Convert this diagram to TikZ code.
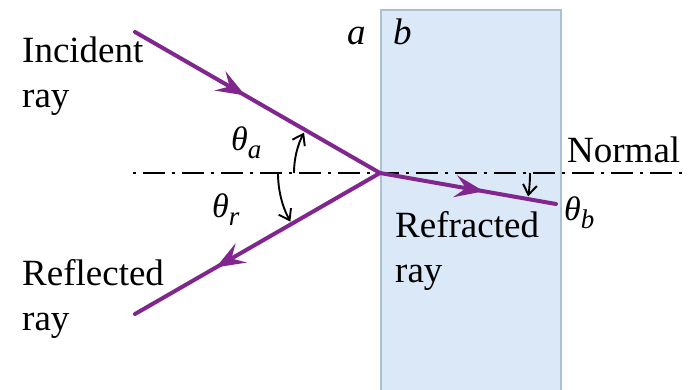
\documentclass[tikz,border=0pt]{standalone}
\usepackage{fontspec}
\setmainfont{Liberation Serif}
\usetikzlibrary{arrows.meta,decorations.markings}
\definecolor{raypurple}{RGB}{128,38,142}
\definecolor{slabfill}{RGB}{219,232,247}
\definecolor{slabedge}{RGB}{172,192,212}
\newcommand\thlab[1]{{\fontsize{34}{38}\selectfont\itshape θ}\raisebox{-8pt}{\fontsize{27}{30}\selectfont\itshape #1}}
\begin{document}
\begin{tikzpicture}[x=1pt,y=1pt,
  lbl/.style={inner sep=0pt, anchor=base west, align=left, font=\fontsize{37}{45}\selectfont},
  ray/.style={draw=raypurple, line width=4pt, line cap=round, line join=round},
  angarc/.style={line width=1.9pt, -{Straight Barb[length=10pt,width=14pt,line width=1.9pt]}},
  normalline/.style={line width=2pt, dash pattern=on 3pt off 7pt on 22pt off 7pt},
  mk/.style={postaction={decorate, decoration={markings, mark=at position #1 with {\arrow[raypurple]{Stealth[length=29pt,width=22pt,inset=11pt]}}}}}
]
\useasboundingbox (0,0) rectangle (688,389);
% slab
\filldraw[fill=slabfill, draw=slabedge, line width=1.5pt] (381,379) rectangle (561,-5);
% points
\coordinate (O) at (380,216);
\coordinate (A) at (135,357);
\coordinate (R) at (135,75);
\coordinate (B) at (556,185);
\coordinate (nstart) at (133,216);
\coordinate (nend) at (690,216);
% normal
\draw[normalline] (nstart) -- (nend);
% rays
\draw[ray, mk=0.45] (A) -- (O);
\draw[ray, mk=0.67] (O) -- (R);
\draw[ray, mk=0.59] (O) -- (B);
% angle arcs
\draw[angarc] ([shift={(180:86pt)}]O) arc[start angle=180, end angle=152, radius=86pt];
\draw[angarc] ([shift={(180:102pt)}]O) arc[start angle=180, end angle=208.5, radius=102pt];
\draw[angarc] ([shift={(0:150pt)}]O) arc[start angle=0, end angle=-9, radius=150pt];
% labels (anchor = baseline of last line)
\node[lbl] (inc) at (22,281) {Incident\\ray};
\node[lbl] (refl) at (22,59) {Reflected\\ray};
\node[lbl] (refr) at (395,107) {Refracted\\ray};
\node[lbl] (norm) at (567,226) {Normal};
\node[lbl] (la) at (347,344) {\itshape a};
\node[lbl] (lb) at (393,344) {\itshape b};
\node[lbl] (tha) at (231,239) {\thlab{a}};
\node[lbl] (thr) at (212,172) {\thlab{r}};
\node[lbl] (thb) at (564,169) {\thlab{b}};
\end{tikzpicture}
\end{document}
